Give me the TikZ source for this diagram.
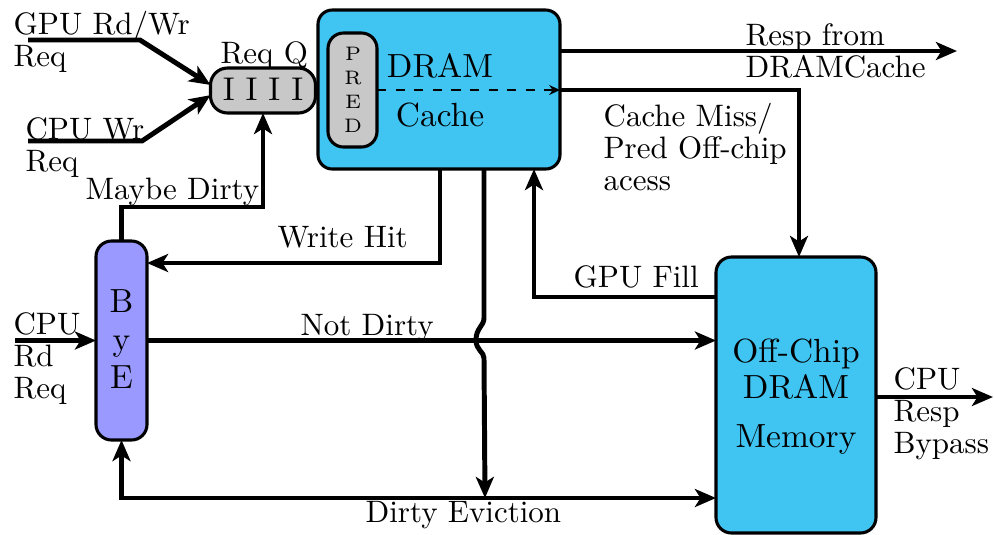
\documentclass[tikz,border=0pt]{standalone}
\usetikzlibrary{arrows.meta,calc}
\definecolor{cachecyan}{RGB}{64,196,242}
\definecolor{byeblue}{RGB}{153,153,255}
\definecolor{qgray}{RGB}{200,200,200}
\newcommand{\pxu}{0.3226pt}
\tikzset{
  x=0.3226pt, y=-0.3226pt,
  box/.style={draw=black, line width=1pt, inner sep=0pt, outer sep=0pt},
  arr/.style={line width=1.6pt, -{Stealth[length=6.8pt,width=5.8pt,inset=1.8pt]}},
  dblarr/.style={line width=1.6pt, {Stealth[length=6.8pt,width=5.8pt,inset=1.8pt]}-{Stealth[length=6.8pt,width=5.8pt,inset=1.8pt]}},
  lbl/.style={anchor=base west, inner sep=0pt, align=left, font=\fontsize{10}{10.3}\selectfont},
}
\begin{document}
\begin{tikzpicture}
\useasboundingbox (0,0) rectangle (994,534);

% ---- blocks (multi-line texts are anchored on their last line) ----
\node[box, fill=qgray, rounded corners=5.5pt, minimum width=105*\pxu, minimum height=45*\pxu] (reqq) at (263,90.5) {};
\node[inner sep=0pt, anchor=base, font=\fontsize{10.6}{12}\selectfont] (reqqtxt) at (263,100) {I I I I};
\node[lbl] (reqqlbl) at (220,63) {Req Q};

\node[box, fill=cachecyan, rounded corners=4.6pt, minimum width=242*\pxu, minimum height=159*\pxu] (cache) at (439,89.5) {};
\node[box, fill=qgray, rounded corners=5pt, minimum width=49*\pxu, minimum height=114*\pxu] (pred) at (352.5,90) {};
\node[inner sep=0pt, anchor=base, align=center, font=\fontsize{6.3}{7.7}\selectfont] (predtxt) at (353,132) {P\\R\\E\\D};
\node[inner sep=0pt, anchor=base, align=center, font=\fontsize{10.8}{15.5}\selectfont] (cachetxt) at (440,126) {DRAM\\Cache};

\node[box, fill=byeblue, rounded corners=5pt, minimum width=51*\pxu, minimum height=199*\pxu] (bye) at (121.5,340.5) {};
\node[inner sep=0pt, anchor=base, align=center, font=\fontsize{10.8}{12.1}\selectfont] (byetxt) at (121.5,388) {B\\y\\E};

\node[box, fill=cachecyan, rounded corners=5pt, minimum width=160*\pxu, minimum height=276*\pxu] (offchip) at (796,395) {};
\node[inner sep=0pt, anchor=base, align=center, font=\fontsize{10.8}{11.6}\selectfont] (offtxt) at (796,447) {Off-Chip\\DRAM\\[4.2pt]Memory};

% ---- request inputs ----
\coordinate (gpuin) at (28,40);
\coordinate (gpubend) at (140,40);
\coordinate (cpuwin) at (28,141);
\coordinate (cpuwbend) at (142,141);
\draw[arr] (gpuin) -- (gpubend) -- ([yshift=1.8pt]reqq.west);
\draw[arr] (cpuwin) -- (cpuwbend) -- ([yshift=-1.5pt]reqq.west);
\node[lbl] (gpulbl) at (13,66) {GPU Rd/Wr\\Req};
\node[lbl] (cpuwlbl) at (25,171) {CPU Wr\\Req};

% ---- BYE to request queue ----
\coordinate (mdA) at (121.5,207);
\coordinate (mdB) at (263,207);
\draw[arr] (bye.north) -- (mdA) -- (mdB) -- (reqq.south);
\node[lbl] (mdlbl) at (85,199) {Maybe Dirty};

% ---- write hit ----
\coordinate (whA) at (440,263);
\draw[arr] (cache.south -| whA) -- (whA) -- (bye.east |- whA);
\node[lbl] (whlbl) at (277,247) {Write Hit};

% ---- CPU read request ----
\coordinate (cpurin) at (15,340.5);
\draw[arr] (cpurin) -- (bye.west);
\node[lbl] (cpurlbl) at (13,398) {CPU\\Rd\\Req};

% ---- not dirty ----
\draw[arr] (bye.east) -- (offchip.west |- bye.east);
\node[lbl] (ndlbl) at (300,335) {Not Dirty};

% ---- dirty eviction ----
\coordinate (deA) at (121.5,498);
\draw[dblarr] (bye.south) -- (deA) -- (offchip.west |- deA);
\coordinate (dvTop) at (484,318);
\coordinate (dvBot) at (484,358);
\coordinate (dvEnd) at (485,498);
\draw[arr] (cache.south -| dvTop) -- (dvTop)
   .. controls (484,326) and (476,328) .. (476,340)
   .. controls (476,350) and (484,352) .. (dvBot) -- (dvEnd);
\node[lbl] (delbl) at (365,522) {Dirty Eviction};

% ---- GPU fill ----
\coordinate (gfA) at (534,297);
\draw[arr] (offchip.west |- gfA) -- (gfA) -- (cache.south -| gfA);
\node[lbl] (gflbl) at (573,287) {GPU Fill};

% ---- DRAM cache response ----
\coordinate (respEnd) at (957,51);
\draw[arr] (cache.east |- respEnd) -- (respEnd);
\node[lbl] (resplbl) at (745,77) {Resp from\\DRAMCache};

% ---- miss / predicted off-chip path ----
\coordinate (missY) at (560,90);
\coordinate (missBend) at (799,90);
\draw[line width=0.7pt, dashed, -{Stealth[length=3.5pt,width=3.2pt]}] (pred.east |- missY) -- (cache.east |- missY);
\draw[arr] (cache.east |- missY) -- (missBend) -- (offchip.north -| missBend);
\node[lbl] (misslbl) at (603,190) {Cache Miss/\\Pred Off-chip\\acess};

% ---- CPU response bypass ----
\coordinate (bypEnd) at (993,397);
\draw[arr] (offchip.east |- bypEnd) -- (bypEnd);
\node[lbl] (byplbl) at (893,453) {CPU\\Resp\\Bypass};
\end{tikzpicture}
\end{document}
